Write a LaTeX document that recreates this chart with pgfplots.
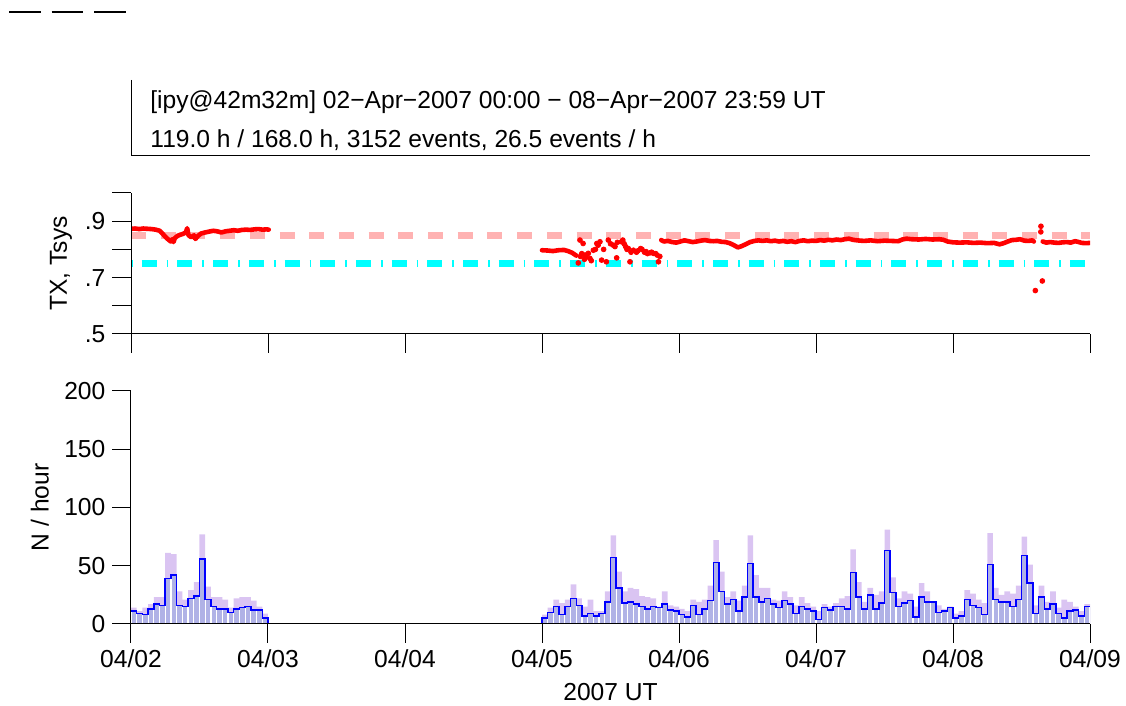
\documentclass[border=0pt]{standalone}
\usepackage{pgfplots}
\usepackage{pgfplotstable}
\pgfplotsset{compat=1.18}
\usepackage{fontspec}
\setmainfont{Liberation Sans}

\definecolor{allbar}{RGB}{218,196,242}
\definecolor{selbar}{RGB}{176,178,230}
\definecolor{selline}{RGB}{0,0,255}
\definecolor{txline}{RGB}{255,178,178}
\definecolor{sysline}{RGB}{0,255,255}

% hourly counts: hour, all events, selected events
\pgfplotstableread{
h p b
0 14 11
1 11 9
2 14 8
3 17 13
4 23 17
5 23 16
6 61 39
7 60 42
8 28 16
9 21 15
10 29 22
11 36 24
12 77 56
13 32 21
14 23 15
15 23 13
16 21 13
17 14 10
18 22 13
19 23 14
20 23 15
21 20 12
22 15 12
23 9 5
24 0 0
72 8 5
73 14 10
74 21 15
75 18 8
76 21 15
77 34 22
78 22 16
79 15 7
80 21 9
81 11 7
82 11 9
83 28 19
84 76 57
85 45 31
86 28 18
87 31 19
88 30 17
89 24 15
90 23 13
91 22 15
92 15 14
93 28 17
94 16 12
95 15 11
96 13 8
97 11 6
98 21 16
99 19 8
100 21 13
101 33 20
102 72 53
103 45 28
104 23 17
105 28 21
106 20 11
107 33 23
108 76 52
109 42 23
110 31 19
111 31 22
112 21 17
113 20 14
114 28 20
115 23 17
116 16 9
117 23 15
118 18 13
119 15 11
120 11 4
121 17 14
122 15 12
123 18 15
124 22 15
125 24 13
126 64 44
127 36 23
128 19 13
129 31 25
130 25 13
131 28 18
132 81 63
133 40 27
134 22 15
135 28 18
136 26 20
137 15 6
138 35 23
139 28 19
140 19 19
141 16 10
142 13 11
143 15 14
144 9 5
145 11 7
146 29 21
147 26 16
148 21 14
149 18 8
150 78 51
151 31 21
152 25 19
153 28 19
154 26 15
155 33 21
156 75 59
157 51 35
158 16 9
159 33 23
160 19 13
161 28 17
162 14 9
163 21 5
164 19 11
165 15 12
166 11 7
167 17 15
168 17 15
}\counts

\begin{document}
\begin{tikzpicture}[font=\fontsize{12.3}{14.5}\selectfont]
\path[use as bounding box] (0pt,0pt) rectangle (563pt,353pt);

% dashes at top left
\draw[line width=1pt, dash pattern=on 15.75pt off 5.5pt] (4.5pt,347pt) -- (63pt,347pt);

% title box
\draw[line width=0.5pt] (65.5pt,313pt) -- (65.5pt,275pt) -- (545pt,275pt);
\node[anchor=base west, inner sep=0pt] at (75pt,298.5pt) {[ipy@42m32m] 02−Apr−2007 00:00 − 08−Apr−2007 23:59 UT};
\node[anchor=base west, inner sep=0pt] at (75pt,279pt) {119.0 h / 168.0 h, 3152 events, 26.5 events / h};

\pgfplotsset{panel/.style={
    scale only axis, width=479.5pt, anchor=south west,
    axis x line*=bottom, axis y line*=left,
    axis line style={line width=0.5pt, -},
    tick style={line width=0.5pt, black},
    tick align=outside, major tick length=9.3pt,
    minor tick num=0,
    font=\fontsize{12.3}{14.5}\selectfont,
    axis on top,
}}

% TX / Tsys panel
\begin{axis}[panel,
    at={(65.5pt,186pt)}, height=70.5pt,
    xmin=0, xmax=7, ymin=0.5, ymax=1.0,
    xtick={0,1,...,7}, xticklabels={},
    ytick={0.5,0.6,0.7,0.8,0.9,1.0}, yticklabels={.5,,.7,,.9,},
    ylabel={TX, Tsys},
    ylabel style={at={(axis description cs:-0.073,0.5)}, anchor=center},
    unbounded coords=jump,
]
\addplot[txline, line width=3.5pt, dash pattern=on 7.5pt off 7.35pt] coordinates {(0,0.85) (7,0.85)};
\addplot[sysline, line width=3.5pt, dash pattern=on 0.85pt off 4.5pt on 7.5pt off 5pt] coordinates {(0,0.75) (7,0.75)};
\addplot[red, line width=2.3pt, line join=round, line cap=round] coordinates {
(0.00,0.873)(0.03,0.874)(0.06,0.872)(0.09,0.874)(0.12,0.873)(0.15,0.872)(0.18,0.870)(0.21,0.866)
(0.23,0.856)(0.25,0.845)(0.27,0.836)(0.29,0.828)(0.30,0.836)(0.31,0.826)(0.32,0.840)(0.34,0.848)
(0.36,0.852)(0.38,0.855)(0.40,0.860)(0.41,0.875)(0.42,0.850)(0.44,0.843)(0.46,0.850)(0.47,0.837)
(0.49,0.848)(0.51,0.856)(0.54,0.860)(0.57,0.863)(0.60,0.866)(0.63,0.864)(0.66,0.860)(0.69,0.864)
(0.72,0.866)(0.75,0.868)(0.78,0.866)(0.81,0.869)(0.84,0.870)(0.87,0.869)(0.90,0.871)(0.93,0.872)
(0.96,0.870)(0.99,0.871)(1.005,0.870)
(1.5,nan)
(3.00,0.797)(3.04,0.796)(3.08,0.794)(3.12,0.797)(3.16,0.798)(3.19,0.794)(3.22,0.788)(3.25,0.778)
(3.26,nan)
(3.87,0.833)(3.89,0.828)(3.92,0.830)(3.95,0.826)(3.98,0.824)(4.01,0.828)(4.04,0.832)(4.07,0.829)
(4.10,0.826)(4.13,0.828)(4.16,0.831)(4.19,0.833)(4.22,0.830)(4.25,0.829)(4.28,0.830)(4.31,0.827)
(4.34,0.826)(4.37,0.822)(4.40,0.815)(4.43,0.807)(4.46,0.812)(4.49,0.819)(4.52,0.826)(4.55,0.830)
(4.58,0.832)(4.61,0.830)(4.64,0.832)(4.67,0.829)(4.70,0.831)(4.73,0.828)(4.76,0.830)(4.79,0.827)
(4.82,0.829)(4.85,0.826)(4.88,0.830)(4.91,0.832)(4.94,0.829)(4.97,0.831)(5.00,0.830)(5.03,0.833)
(5.06,0.831)(5.09,0.834)(5.12,0.832)(5.15,0.835)(5.18,0.833)(5.21,0.836)(5.24,0.838)(5.27,0.834)
(5.30,0.832)(5.35,0.830)(5.40,0.832)(5.45,0.829)(5.50,0.831)(5.55,0.830)(5.60,0.829)(5.63,0.835)
(5.66,0.838)(5.70,0.836)(5.75,0.835)(5.80,0.837)(5.85,0.835)(5.90,0.836)(5.93,0.834)(5.96,0.828)
(6.00,0.825)(6.05,0.824)(6.10,0.825)(6.15,0.823)(6.20,0.824)(6.25,0.822)(6.30,0.823)(6.34,0.818)
(6.37,0.822)(6.40,0.828)(6.43,0.833)(6.46,0.834)(6.49,0.836)(6.52,0.831)(6.55,0.830)(6.58,0.832)
(6.59,0.828)
(6.62,nan)
(6.655,0.828)(6.68,0.824)(6.71,0.826)(6.74,0.824)(6.77,0.823)(6.80,0.825)(6.83,0.826)(6.86,0.824)
(6.89,0.829)(6.91,0.827)(6.94,0.823)(6.97,0.822)(7.00,0.823)
};
\addplot[only marks, mark=*, mark size=1.2pt, red, mark options={draw=red, fill=red}] coordinates {
(3.265,0.752)(3.277,0.833)(3.30,0.821)(3.314,0.780)(3.338,0.786)(3.36,0.760)(3.375,0.797)(3.40,0.821)
(3.423,0.827)(3.435,0.762)(3.47,0.756)(3.484,0.833)(3.50,0.820)(3.533,0.810)(3.545,0.770)(3.58,0.827)
(3.59,0.833)(3.60,0.820)(3.63,0.803)(3.642,0.756)(3.667,0.797)(3.69,0.790)(3.72,0.803)(3.748,0.790)
(3.77,0.785)(3.813,0.786)(3.84,0.780)(3.85,0.756)(3.86,0.775)
(3.28,0.775)(3.32,0.772)(3.35,0.768)(3.31,0.765)(3.29,0.785)(3.39,0.800)(3.41,0.815)(3.45,0.800)
(3.52,0.815)(3.55,0.825)(3.61,0.810)(3.62,0.800)(3.65,0.790)(3.70,0.795)(3.73,0.800)(3.76,0.792)
(3.79,0.788)(3.80,0.790)(3.83,0.785)
(6.601,0.654)(6.642,0.882)(6.641,0.862)(6.652,0.688)
};
\end{axis}

% counts panel
\begin{axis}[panel,
    at={(65.5pt,41pt)}, height=116.5pt,
    xmin=0, xmax=168, ymin=0, ymax=200,
    xtick={0,24,...,168},
    xticklabels={04/02,04/03,04/04,04/05,04/06,04/07,04/08,04/09},
    ytick={0,50,100,150,200}, yticklabels={0,50,100,150,200},
    ylabel={N / hour},
    ylabel style={at={(axis description cs:-0.095,0.5)}, anchor=center},
    xlabel={2007 UT},
    xlabel style={at={(axis description cs:0.5,-0.292)}, anchor=center},
]
\addplot[ybar interval, fill=allbar, draw=none] table[x=h, y=p] {\counts};
\addplot[ybar interval, fill=selbar, draw=white, line width=0.6pt] table[x=h, y=b] {\counts};
\addplot[const plot, selline, line width=0.75pt] table[x=h, y=b] {\counts};
\end{axis}
\end{tikzpicture}
\end{document}
